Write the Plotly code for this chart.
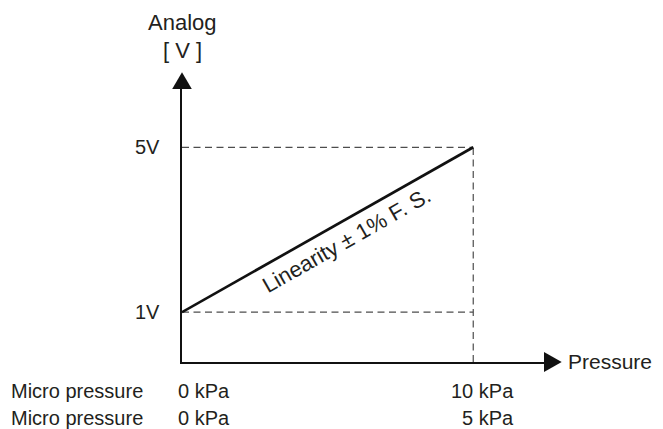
import math
import plotly.graph_objects as go

# ---------------- data ----------------
pressure_points = [0, 10]          # kPa (micro pressure range)
voltage_points = [1, 5]            # V
voltage_labels = ["1V", "5V"]
row_names = ["Micro pressure", "Micro pressure"]
row_start_labels = ["0 kPa", "0 kPa"]
row_end_labels = ["10 kPa", "5 kPa"]
y_title_lines = ["Analog", "[ V ]"]
x_title = "Pressure"
line_label = "Linearity ± 1% F. S."

# ---------------- layout geometry (reference pixels) ----------------
W, H = 663, 429
SHIFT = 8                            # page body margin compensation
X0_PX, X10_PX = 182.3, 473.3         # pixel columns of 0 and 10
V1_PX, V5_PX = 312.5, 147.0          # pixel rows of 1 V and 5 V
L, R, T, B = 182.3, 545.0, 87.5, 362.5   # plot area (axis lines)

PX_PER_X = (X10_PX - X0_PX) / (pressure_points[1] - pressure_points[0])
PX_PER_V = (V1_PX - V5_PX) / (voltage_points[1] - voltage_points[0])

x_range = [(L - X0_PX) / PX_PER_X, (R - X0_PX) / PX_PER_X]
y_range = [1 - (B - V1_PX) / PX_PER_V, 1 + (V1_PX - T) / PX_PER_V]

def pxx(p):
    return (p - L) / (R - L)

def pxy(p):
    return (B - p) / (B - T)

FONT = "Liberation Sans, Arial, sans-serif"
TXT = "#231f20"
FS = 20
FS_BIG = 22
PAD = 2

fig = go.Figure()

# dashed guide lines
dash = dict(color="#4d4d4d", width=1.2, dash="7px,4.5px")
fig.add_trace(go.Scatter(x=[pressure_points[0], pressure_points[1]],
                         y=[voltage_points[1], voltage_points[1]],
                         mode="lines", line=dash, hoverinfo="skip", cliponaxis=False))
fig.add_trace(go.Scatter(x=[pressure_points[0], pressure_points[1]],
                         y=[voltage_points[0], voltage_points[0]],
                         mode="lines", line=dash, hoverinfo="skip", cliponaxis=False))
fig.add_trace(go.Scatter(x=[pressure_points[1], pressure_points[1]],
                         y=[y_range[0], voltage_points[1]],
                         mode="lines", line=dash, hoverinfo="skip", cliponaxis=False))

# main characteristic line
fig.add_trace(go.Scatter(x=pressure_points, y=voltage_points, mode="lines",
                         line=dict(color="#111111", width=2.7), cliponaxis=False))

# arrow heads
shapes = [
    dict(type="path", xref="paper", yref="paper",
         path=f"M {pxx(172.5)},{pxy(88.5)} L {pxx(192.1)},{pxy(88.5)} L {pxx(182.3)},{pxy(71.7)} Z",
         fillcolor="#111111", line=dict(width=0)),
    dict(type="path", xref="paper", yref="paper",
         path=f"M {pxx(544)},{pxy(352.5)} L {pxx(544)},{pxy(372.5)} L {pxx(561.7)},{pxy(362.5)} Z",
         fillcolor="#111111", line=dict(width=0)),
]

ann = []
def add(text, x, y, xref="paper", yref="paper", size=FS, **kw):
    ann.append(dict(text=text, x=x, y=y, xref=xref, yref=yref, showarrow=False,
                    font=dict(family=FONT, size=size, color=TXT), **kw))

for i, t in enumerate(y_title_lines):
    add(t, pxx(182.5), pxy([21.5, 49.5][i]), size=FS_BIG, xanchor="center", yanchor="middle")
for v, lab in zip(voltage_points, voltage_labels):
    add(lab, 0, v, xref="x", yref="y", xanchor="right", yanchor="middle",
        xshift=(160 - X0_PX) + PAD)
add(x_title, pxx(568 - PAD), pxy(362), size=21, xanchor="left", yanchor="middle")
for i, (n, s, e) in enumerate(zip(row_names, row_start_labels, row_end_labels)):
    yy = pxy([391.5, 418.5][i])
    add(n, pxx(11.7 - PAD), yy, xanchor="left", yanchor="middle")
    add(s, pressure_points[0], yy, xref="x", xanchor="left", yanchor="middle",
        xshift=(178 - X0_PX) - PAD)
    add(e, pressure_points[1], yy, xref="x", xanchor="right", yanchor="middle",
        xshift=(514 - X10_PX) + PAD)

# rotated linearity label below the line
ang = math.degrees(math.atan((voltage_points[1] - voltage_points[0]) * PX_PER_V /
                             ((pressure_points[1] - pressure_points[0]) * PX_PER_X)))
xm = 5.32
ym = voltage_points[0] + (voltage_points[1] - voltage_points[0]) * xm / (pressure_points[1] - pressure_points[0])
off = 18.6
add(line_label, xm, ym, xref="x", yref="y", size=FS_BIG, textangle=-ang,
    xshift=off * math.sin(math.radians(ang)),
    yshift=-off * math.cos(math.radians(ang)),
    xanchor="center", yanchor="middle")

axis_common = dict(showgrid=False, zeroline=False, showticklabels=False, ticks="",
                   showline=True, linecolor="#111111", linewidth=1.5, fixedrange=True)

fig.update_layout(
    width=W - SHIFT, height=H - SHIFT,
    margin=dict(l=L - SHIFT, r=W - R, t=T - SHIFT, b=H - B, pad=0),
    paper_bgcolor="white", plot_bgcolor="white",
    showlegend=False,
    xaxis=dict(range=x_range, **axis_common),
    yaxis=dict(range=y_range, **axis_common),
    shapes=shapes,
    annotations=ann,
    font=dict(family=FONT),
)

fig.write_html("out.html", config={"displayModeBar": False})
